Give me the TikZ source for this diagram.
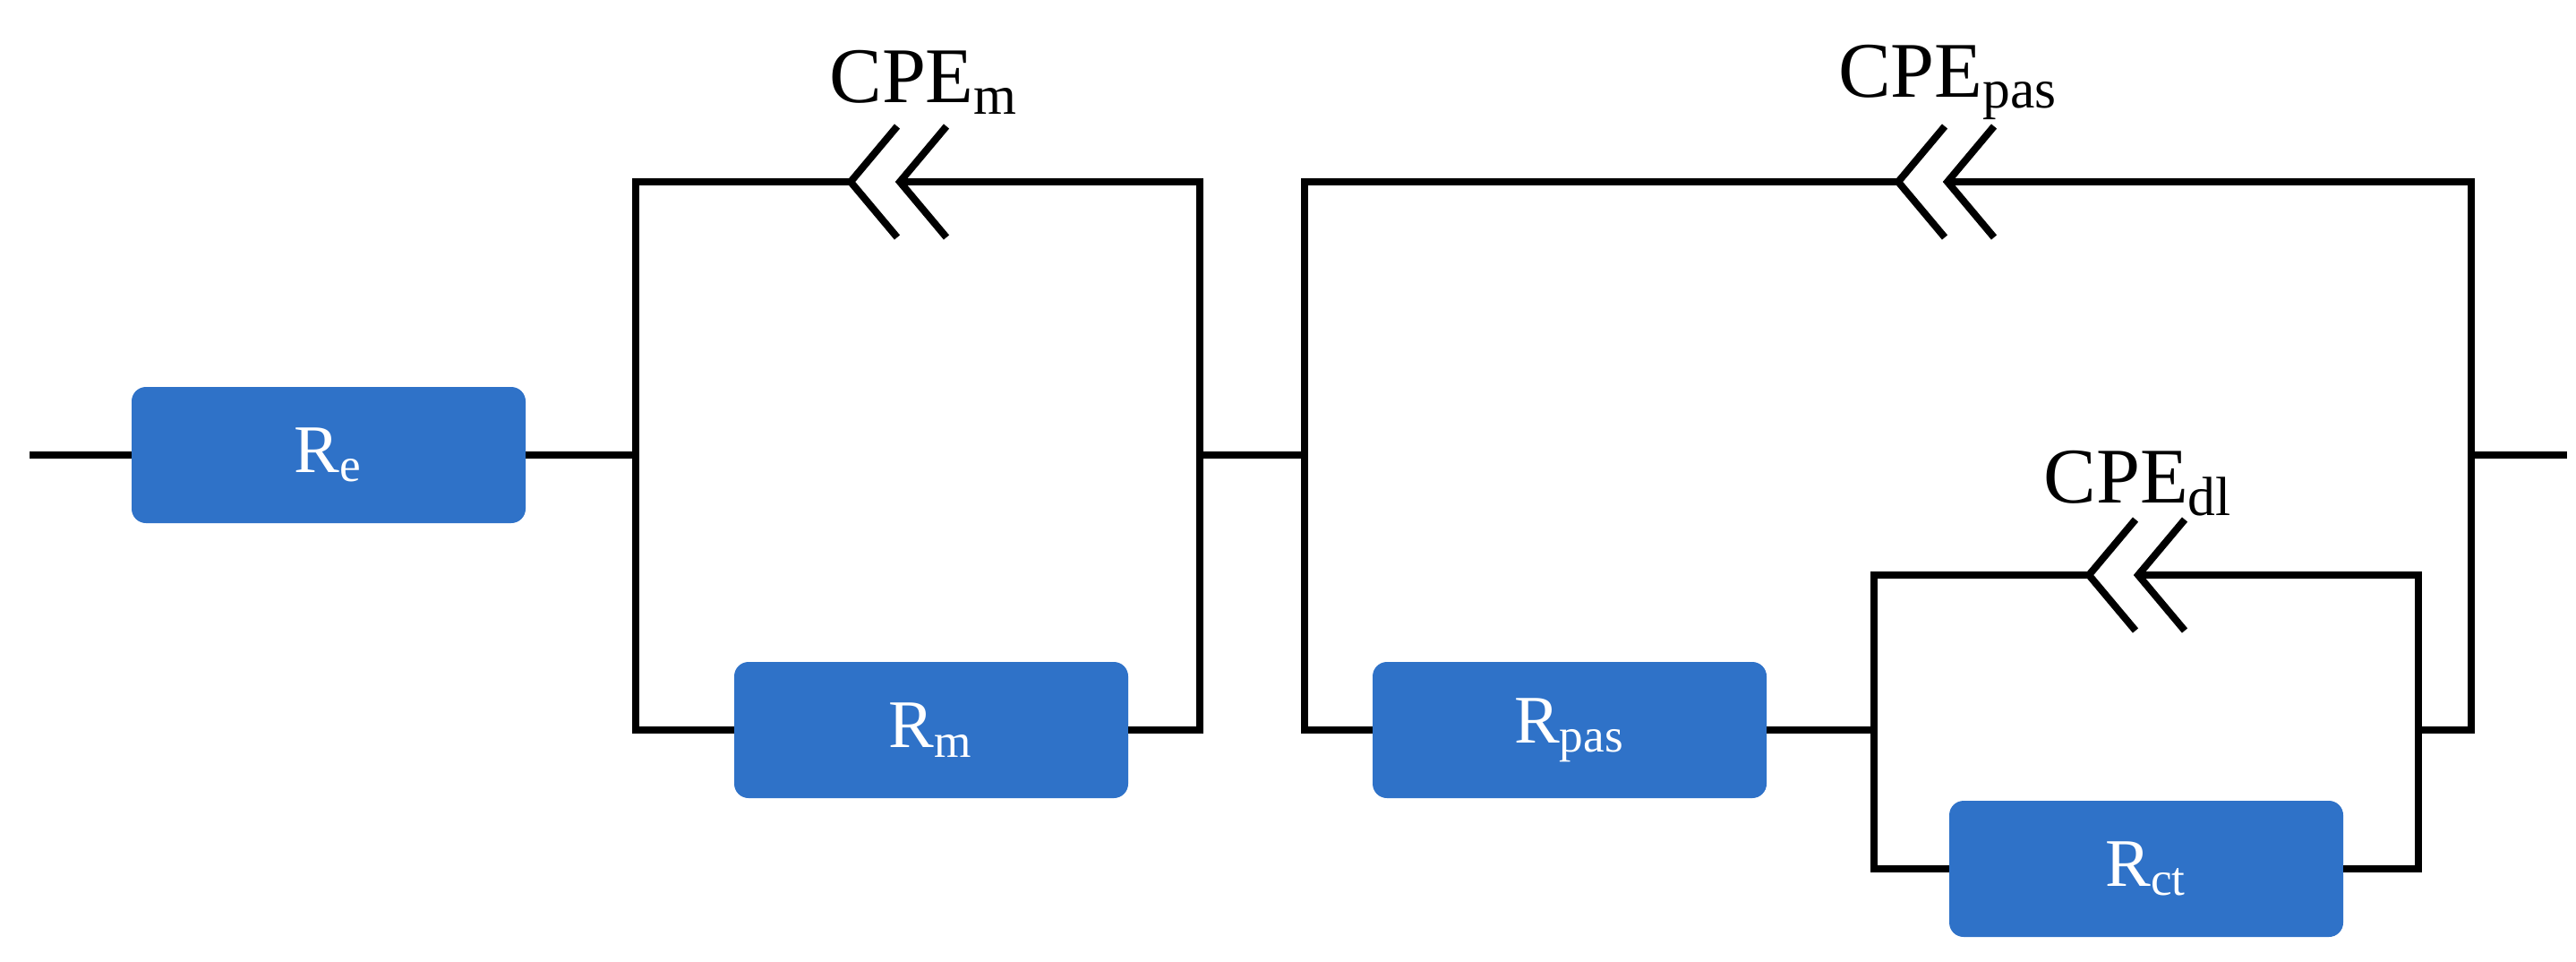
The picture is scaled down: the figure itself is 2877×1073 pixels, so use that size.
\documentclass[tikz,border=0pt]{standalone}
\usepackage{fontspec}
\setmainfont{Liberation Serif}
\begin{document}
\begin{tikzpicture}[x=0.25pt,y=-0.25pt,line width=2pt,
  res/.style={draw=none,fill=resblue,rounded corners=4pt,minimum width=110pt,minimum height=38pt,text=white,font=\fontsize{19}{22}\selectfont,inner sep=0pt,outer sep=0pt},
  lbl/.style={font=\fontsize{22}{25}\selectfont,inner sep=0pt},
  wire/.style={line width=2pt,line join=miter}]
\definecolor{resblue}{HTML}{2F72C8}
\useasboundingbox (0,0) rectangle (2877,1073);
% resistors
\node[res] (Re) at (367,508) {R\textsubscript{e}};
\node[res] (Rm) at (1040,815) {R\textsubscript{m}};
\node[res] (Rpas) at (1753,815) {R\textsubscript{pas}};
\node[res] (Rct) at (2397,970) {R\textsubscript{ct}};
% coordinates
\coordinate (in) at (33,508);
\coordinate (out) at (2867,508);
\coordinate (j1) at (710,508);
\coordinate (j1t) at (710,203);
\coordinate (j1b) at (710,815);
\coordinate (j2t) at (1340,203);
\coordinate (j2b) at (1340,815);
\coordinate (j2) at (1340,508);
\coordinate (j3) at (1457,508);
\coordinate (j3t) at (1457,203);
\coordinate (j3b) at (1457,815);
\coordinate (j4t) at (2760,203);
\coordinate (j4b) at (2760,815);
\coordinate (j4) at (2760,508);
\coordinate (k1) at (2093,815);
\coordinate (k1t) at (2093,642);
\coordinate (k1b) at (2093,970);
\coordinate (k2t) at (2701,642);
\coordinate (k2b) at (2701,970);
\coordinate (k2) at (2701,815);
% CPE
\coordinate (cm1) at (950,203); \coordinate (cm2) at (1005,203);
\coordinate (cp1) at (2120,203); \coordinate (cp2) at (2175,203);
\coordinate (cd1) at (2333,642); \coordinate (cd2) at (2388,642);
\foreach \a/\b in {cm1/cm2,cp1/cp2,cd1/cd2}{
  \draw[wire] ([shift={(52,-62)}]\a) -- (\a) -- ([shift={(52,62)}]\a);
  \draw[wire] ([shift={(52,-62)}]\b) -- (\b) -- ([shift={(52,62)}]\b);
}
\node[lbl] (Lm) at (1032,92) {CPE\textsubscript{m}};
\node[lbl] (Lp) at (2176,92) {CPE\textsubscript{pas}};
\node[lbl] (Ld) at (2388,540) {CPE\textsubscript{dl}};
% wires
\draw[wire] (in) -- (Re.west);
\draw[wire] (Re.east) -- (j1);
\draw[wire] (cm1) -- (j1t) -- (j1b) -- (Rm.west);
\draw[wire] (cm2) -- (j2t) -- (j2b) -- (Rm.east);
\draw[wire] (j2) -- (j3);
\draw[wire] (cp1) -- (j3t) -- (j3b) -- (Rpas.west);
\draw[wire] (cp2) -- (j4t) -- (j4b) -- (k2);
\draw[wire] (j4) -- (out);
\draw[wire] (Rpas.east) -- (k1);
\draw[wire] (cd1) -- (k1t) -- (k1b) -- (Rct.west);
\draw[wire] (cd2) -- (k2t) -- (k2b) -- (Rct.east);
\end{tikzpicture}
\end{document}
